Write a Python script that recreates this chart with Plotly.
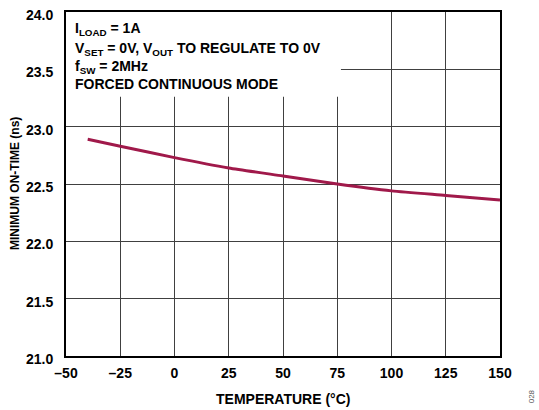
import plotly.graph_objects as go

temps = [-40, -25, 0, 25, 50, 75, 100, 125, 150]
min_on_time = [22.89, 22.83, 22.73, 22.64, 22.57, 22.50, 22.44, 22.40, 22.36]

x_ticks = [-50, -25, 0, 25, 50, 75, 100, 125, 150]
x_tick_labels = ["–50", "–25", "0", "25", "50", "75", "100", "125", "150"]
y_ticks = [21.0, 21.5, 22.0, 22.5, 23.0, 23.5, 24.0]
y_tick_labels = ["21.0", "21.5", "22.0", "22.5", "23.0", "23.5", "24.0"]

notes = [
    "I<sub>LOAD</sub> = 1A",
    "V<sub>SET</sub> = 0V, V<sub>OUT</sub> TO REGULATE TO 0V",
    "f<sub>SW</sub> = 2MHz",
    "FORCED CONTINUOUS MODE",
]

FONT = "Liberation Sans, Arial, sans-serif"

fig = go.Figure()
fig.add_trace(go.Scatter(
    x=temps, y=min_on_time, mode="lines",
    line=dict(color="#A0194A", width=3, shape="spline", smoothing=0.6),
    showlegend=False, hoverinfo="skip",
))

fig.add_shape(type="rect", xref="x", yref="y", x0=-50, x1=76.7, y0=23.26, y1=24.0,
              fillcolor="white", line=dict(width=0), layer="between")

ys = [0.951, 0.893, 0.841, 0.790]
for t, yy in zip(notes, ys):
    fig.add_annotation(text=f"<b>{t}</b>", xref="paper", yref="paper", x=0.016, y=yy,
                       xanchor="left", yanchor="middle", showarrow=False,
                       font=dict(family=FONT, size=14, color="black"))

fig.add_annotation(text="<b>TEMPERATURE (°C)</b>", xref="paper", yref="paper", x=0.5, y=-0.125,
                   xanchor="center", yanchor="middle", showarrow=False,
                   font=dict(family=FONT, size=14, color="black"))
fig.add_annotation(text="<b>MINIMUM ON-TIME (ns)</b>", xref="paper", yref="paper", x=-0.1175, y=0.5,
                   xanchor="center", yanchor="middle", showarrow=False, textangle=-90,
                   font=dict(family=FONT, size=12, color="black"))
fig.add_annotation(text="028", xref="paper", yref="paper", x=1.073, y=-0.118,
                   xanchor="center", yanchor="middle", textangle=-90, showarrow=False,
                   font=dict(family=FONT, size=8, color="#555"))

axis_common = dict(
    showline=True, linecolor="black", linewidth=2, mirror=True,
    showgrid=True, gridcolor="#404040", gridwidth=1, automargin=False,
    zeroline=False, ticks="", tickfont=dict(family=FONT, size=14, color="black"),
)
fig.update_xaxes(range=[-50, 150], tickvals=x_ticks, ticktext=[f"<b>{t}</b>" for t in x_tick_labels],
                 ticklabelstandoff=3, **axis_common)
fig.update_yaxes(range=[21.0, 24.0], tickvals=y_ticks, ticktext=[f"<b>{t}</b>" for t in y_tick_labels],
                 ticklabelstandoff=8, ticklabelshift=3, **axis_common)

fig.update_layout(
    width=539, height=410,
    margin=dict(l=66, r=39, t=12, b=54),
    paper_bgcolor="white", plot_bgcolor="white",
    font=dict(family=FONT, color="black"),
)

fig.write_html("out.html", config={"displayModeBar": False},
               post_script="document.body.style.margin='0';")
